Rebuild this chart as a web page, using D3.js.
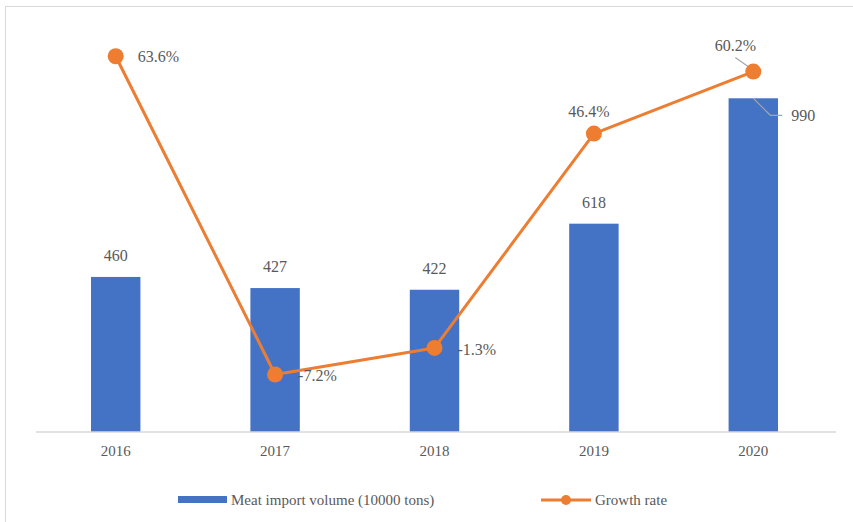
<!DOCTYPE html>
<html><head><meta charset="utf-8">
<script src="https://cdn.jsdelivr.net/npm/d3@7"></script>
<style>body{margin:0;background:#fff}svg{display:block}text{font-family:"Liberation Serif","Times New Roman",serif}</style>
</head><body>
<script>
const years = ["2016","2017","2018","2019","2020"];
const volume = [460, 427, 422, 618, 990];
const growth = [63.6, -7.2, -1.3, 46.4, 60.2];
const volumeLabels = ["460","427","422","618","990"];
const growthLabels = ["63.6%","-7.2%","-1.3%","46.4%","60.2%"];
const seriesNames = ["Meat import volume (10000 tons)", "Growth rate"];

const W = 853, H = 522;
const svg = d3.select("body").append("svg").attr("width", W).attr("height", H);
svg.append("rect").attr("x",5.5).attr("y",6.5).attr("width",W).attr("height",H)
  .attr("fill","none").attr("stroke","#d9d9d9").attr("stroke-width",1);

const x = d3.scaleBand().domain(years).range([36, 833]).paddingInner(0.69).paddingOuter(0.345);
const yL = d3.scaleLinear().domain([0, 1200]).range([432, 27.5]);
const yR = d3.scaleLinear().domain([-20, 70]).range([432, 27.5]);
const cx = d => x(d) + x.bandwidth()/2;
const blue = "#4472C4", orange = "#ED7D31", txt = "#595959";

// bars
svg.selectAll("rect.bar").data(years).join("rect").attr("class","bar")
  .attr("x", d => x(d)).attr("width", x.bandwidth())
  .attr("y", (d,i) => yL(volume[i])).attr("height", (d,i) => yL(0) - yL(volume[i]))
  .attr("fill", blue);

// axis
const xAxis = d3.axisBottom(x).tickSize(0).tickPadding(13);
const gx = svg.append("g").attr("transform","translate(0,432)").call(xAxis);
gx.attr("font-family", null);
gx.select(".domain").attr("stroke","#d9d9d9").attr("stroke-width",1.5).attr("d","M36,0H836");
gx.selectAll("text").attr("font-size",15).attr("fill",txt);

// bar labels
svg.selectAll("text.vl").data(years).join("text").attr("class","vl")
  .attr("x", (d,i) => i===4 ? cx(d)+38 : cx(d))
  .attr("y", (d,i) => i===4 ? yL(volume[i])+23 : yL(volume[i]) - 16)
  .attr("text-anchor", (d,i) => i===4 ? "start" : "middle")
  .attr("font-size",16).attr("fill",txt).text((d,i) => volumeLabels[i]);

// leader for 990
const b4 = years[4];
svg.append("path").attr("d", `M${cx(b4)},${yL(volume[4])}L${cx(b4)+17},${yL(volume[4])+17}H${cx(b4)+29}`)
  .attr("fill","none").attr("stroke","#a6a6a6").attr("stroke-width",1.2);

// line
const line = d3.line().x((d,i) => cx(years[i])).y(d => yR(d));
svg.append("path").datum(growth).attr("d", line).attr("fill","none")
  .attr("stroke", orange).attr("stroke-width",3).attr("stroke-linejoin","round");

// leader for 60.2%
svg.append("path").attr("d", `M${cx(years[4])-1},${yR(growth[4])-2}L${cx(years[4])-18},${yR(growth[4])-14}`)
  .attr("fill","none").attr("stroke","#a6a6a6").attr("stroke-width",1.2);

svg.selectAll("circle.pt").data(growth).join("circle").attr("class","pt")
  .attr("cx",(d,i)=>cx(years[i])).attr("cy",d=>yR(d)).attr("r",8).attr("fill",orange);

// growth labels
const gpos = [
  {dx: 22, dy: 6, a: "start"},
  {dx: 23, dy: 7, a: "start"},
  {dx: 23, dy: 7, a: "start"},
  {dx: -5, dy: -17, a: "middle"},
  {dx: -18, dy: -21, a: "middle"}
];
svg.selectAll("text.gl").data(growth).join("text").attr("class","gl")
  .attr("x",(d,i)=>cx(years[i]) + gpos[i].dx).attr("y",(d,i)=>yR(d) + gpos[i].dy)
  .attr("text-anchor",(d,i)=>gpos[i].a)
  .attr("font-size",16).attr("fill",txt).text((d,i)=>growthLabels[i]);

// legend
const lg = svg.append("g");
lg.append("rect").attr("x",178).attr("y",496).attr("width",49).attr("height",7).attr("fill",blue);
lg.append("text").attr("x",231).attr("y",505).attr("font-size",15).attr("fill",txt).text(seriesNames[0]);
lg.append("line").attr("x1",541).attr("x2",591).attr("y1",500).attr("y2",500).attr("stroke",orange).attr("stroke-width",3);
lg.append("circle").attr("cx",566).attr("cy",500).attr("r",5).attr("fill",orange);
lg.append("text").attr("x",595).attr("y",505).attr("font-size",15).attr("fill",txt).text(seriesNames[1]);
</script>
</body></html>
